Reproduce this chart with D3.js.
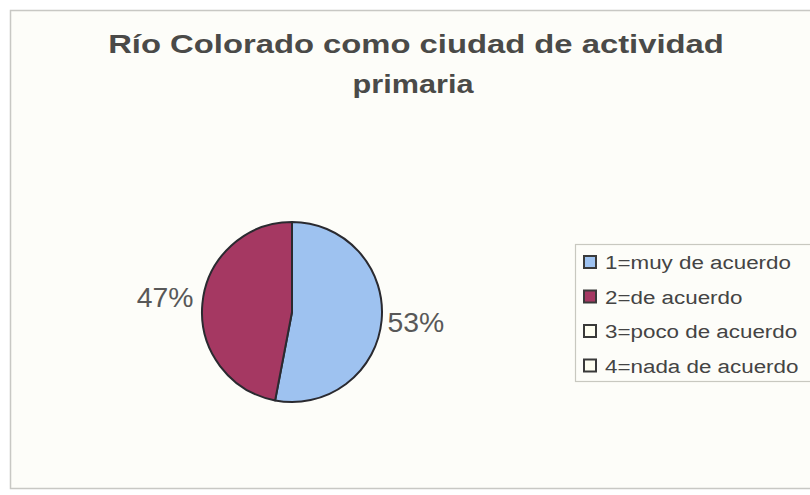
<!DOCTYPE html>
<html>
<head>
<meta charset="utf-8">
<script src="https://cdn.jsdelivr.net/npm/d3@7"></script>
<style>
  html, body { margin: 0; padding: 0; background: #ffffff; }
  svg { display: block; }
  text { font-family: "Liberation Sans", Arial, sans-serif; }
</style>
</head>
<body>
<svg id="chart" width="810" height="495"></svg>
<script>
// Chart data
const titleLines = ["Río Colorado como ciudad de actividad", "primaria"];
const categories = ["1=muy de acuerdo", "2=de acuerdo", "3=poco de acuerdo", "4=nada de acuerdo"];
const values = [53, 47, 0, 0];
const colors = ["#9ec2f0", "#a53862", "#fffff2", "#fffff2"];

const svg = d3.select("#chart");
const W = 810, H = 495;

// Chart area frame
svg.append("rect").attr("x", 0).attr("y", 0).attr("width", W).attr("height", H).attr("fill", "#ffffff");
svg.append("rect")
  .attr("x", 10.5).attr("y", 10.5).attr("width", 830).attr("height", 478)
  .attr("fill", "#fdfdf9").attr("stroke", "#c8c8c4").attr("stroke-width", 1.5);

// Title, stretched slightly horizontally to the chart's wide lettering
const titleG = svg.append("g");
const titleSpecs = [
  { text: titleLines[0], cx: 416, y: 53, w: 616 },
  { text: titleLines[1], cx: 413, y: 93, w: 121 }
];
titleSpecs.forEach(s => {
  const t = titleG.append("text")
    .attr("x", 0).attr("y", 0)
    .attr("font-size", 26).attr("font-weight", "bold")
    .attr("fill", "#4a4a48")
    .attr("text-anchor", "middle")
    .text(s.text);
  const nat = t.node().getComputedTextLength();
  t.attr("transform", `translate(${s.cx},${s.y}) scale(${s.w / nat},1)`);
});

// Pie
const cx = 292, cy = 312, r = 90;
const total = d3.sum(values);
const pie = d3.pie().sort(null).value(d => d.v).startAngle(0).endAngle(2 * Math.PI);
const arcs = pie(categories.map((c, i) => ({ c, v: values[i], color: colors[i] })))
  .filter(a => a.data.v > 0);
const arc = d3.arc().innerRadius(0).outerRadius(r);

const pieG = svg.append("g").attr("transform", `translate(${cx},${cy})`);
pieG.selectAll("path").data(arcs).join("path")
  .attr("d", arc)
  .attr("fill", d => d.data.color)
  .attr("stroke", "#2a2a30")
  .attr("stroke-width", 2)
  .attr("stroke-linejoin", "round");

// Percentage labels outside the slices
const labelArc = d3.arc().innerRadius(r + 7).outerRadius(r + 7);
pieG.selectAll("text.pct").data(arcs).join("text")
  .attr("class", "pct")
  .each(function(d) {
    const [x, y] = labelArc.centroid(d);
    const mid = (d.startAngle + d.endAngle) / 2;
    const right = mid < Math.PI;
    d3.select(this)
      .attr("transform", `translate(${x + (right ? -1 : -2)},${y + (right ? 11 : 4)}) scale(1.05,1)`)
      .attr("text-anchor", right ? "start" : "end");
  })
  .attr("font-size", 27)
  .attr("fill", "#585858")
  .text(d => Math.round(d.data.v / total * 100) + "%");

// Legend
const legG = svg.append("g");
legG.append("rect")
  .attr("x", 575.5).attr("y", 244.5).attr("width", 260).attr("height", 137)
  .attr("fill", "#fdfdf9").attr("stroke", "#c8c8c0").attr("stroke-width", 1.2);

const rowY = d3.scalePoint().domain(categories).range([269, 372.5]);
const items = legG.selectAll("g.item").data(categories).join("g").attr("class", "item");
items.append("rect")
  .attr("x", 584).attr("y", d => rowY(d) - 13)
  .attr("width", 12).attr("height", 12)
  .attr("fill", (d, i) => colors[i])
  .attr("stroke", "#3a3a3a").attr("stroke-width", 2);
const legTexts = items.append("text")
  .attr("font-size", 19)
  .attr("fill", "#444444")
  .text(d => d);
// Horizontal stretch taken from the first entry's span
const sx = 186 / legTexts.nodes()[0].getComputedTextLength();
legTexts.attr("transform", d => `translate(605,${rowY(d)}) scale(${sx},1)`);
</script>
</body>
</html>
